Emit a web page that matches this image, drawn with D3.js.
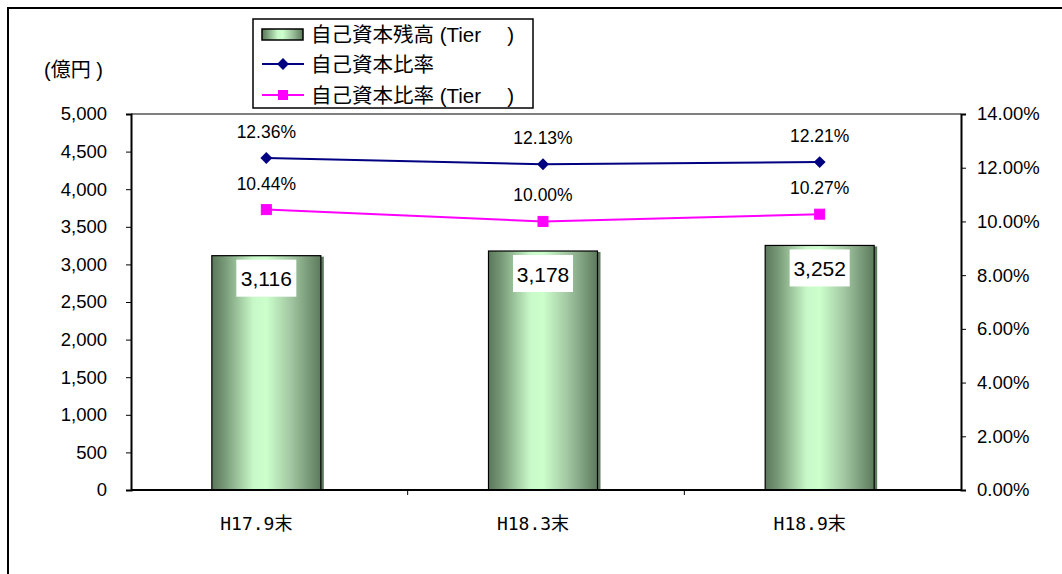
<!DOCTYPE html>
<html>
<head>
<meta charset="utf-8">
<script src="https://cdn.jsdelivr.net/npm/d3@7"></script>
<style>
  html, body { margin: 0; padding: 0; background: #fff; }
  svg { display: block; }
  text { font-family: "Liberation Sans", Arial, sans-serif; fill: #000; }
</style>
</head>
<body>
<svg id="chart" width="1062" height="574"></svg>
<script>
// Data
const categories = ["H17.9末", "H18.3末", "H18.9末"];
const capital = [3116, 3178, 3252];          // 自己資本残高 (億円)
const ratio = [12.36, 12.13, 12.21];          // 自己資本比率 (%)
const ratioTier = [10.44, 10.00, 10.27];      // 自己資本比率 (Tier) (%)
const leftTicks = [0, 500, 1000, 1500, 2000, 2500, 3000, 3500, 4000, 4500, 5000];
const rightTicks = [0, 2, 4, 6, 8, 10, 12, 14];
const seriesNames = ["自己資本残高 (Tier\u3000 )", "自己資本比率", "自己資本比率 (Tier\u3000 )"];

const svg = d3.select("#chart");
const plot = { left: 131, right: 961, top: 114, bottom: 490 };

// Outer chart frame (top and left edges visible)
svg.append("path")
  .attr("d", "M8,574 V8 H1062")
  .attr("fill", "none").attr("stroke", "#000").attr("stroke-width", 2);

const x = d3.scaleBand().domain(categories).range([plot.left, plot.right]).paddingInner(0).paddingOuter(0);
const yL = d3.scaleLinear().domain([0, 5000]).range([plot.bottom, plot.top]);
const yR = d3.scaleLinear().domain([0, 14]).range([plot.bottom, plot.top]);

// Bar gradient
const defs = svg.append("defs");
const grad = defs.append("linearGradient").attr("id", "barGrad")
  .attr("x1", "0%").attr("x2", "100%").attr("y1", "0%").attr("y2", "0%");
[[0, "#5a775a"], [0.12, "#789a78"], [0.38, "#c8f8c8"], [0.5, "#ccffcc"], [0.72, "#a3c8a3"], [1, "#5c7a5c"]]
  .forEach(([o, c]) => grad.append("stop").attr("offset", o).attr("stop-color", c));

// Plot area top border (grey)
svg.append("line")
  .attr("x1", plot.left).attr("x2", plot.right).attr("y1", plot.top).attr("y2", plot.top)
  .attr("stroke", "#808080").attr("stroke-width", 2);

// Bars
const barW = 109;
const bars = svg.append("g");
categories.forEach((c, i) => {
  const cx = x(c) + x.bandwidth() / 2 - 3;
  const y0 = yL(capital[i]);
  bars.append("rect")
    .attr("x", cx + barW / 2).attr("y", y0 + 1)
    .attr("width", 3).attr("height", plot.bottom - y0 - 1)
    .attr("fill", "#5e7a5e");
  bars.append("rect")
    .attr("x", cx - barW / 2).attr("y", y0)
    .attr("width", barW).attr("height", plot.bottom - y0)
    .attr("fill", "url(#barGrad)")
    .attr("stroke", "#000").attr("stroke-width", 1.2);
  // value label box
  const lbl = d3.format(",")(capital[i]);
  bars.append("rect")
    .attr("x", cx - 30).attr("y", y0 + 4)
    .attr("width", 60).attr("height", 37).attr("fill", "#fff");
  bars.append("text")
    .attr("x", cx).attr("y", y0 + 23)
    .attr("text-anchor", "middle").attr("dominant-baseline", "central")
    .attr("font-size", 21).text(lbl);
});

// Left axis
const axL = svg.append("g").attr("transform", `translate(${plot.left},0)`)
  .call(d3.axisLeft(yL).tickValues(leftTicks).tickSize(5).tickPadding(19).tickFormat(d3.format(",")));
axL.select(".domain").attr("stroke", "#000").attr("stroke-width", 2);
axL.selectAll(".tick line").attr("stroke", "#000");
axL.selectAll(".tick text").attr("font-size", 18.5).attr("font-family", "Liberation Sans, Arial, sans-serif").attr("fill", "#000");

// Right axis
const axR = svg.append("g").attr("transform", `translate(${plot.right},0)`)
  .call(d3.axisRight(yR).tickValues(rightTicks).tickSize(5).tickPadding(11).tickFormat(d => d.toFixed(2) + "%"));
axR.select(".domain").attr("stroke", "#000").attr("stroke-width", 2);
axR.selectAll(".tick line").attr("stroke", "#000");
axR.selectAll(".tick text").attr("font-size", 18.5).attr("font-family", "Liberation Sans, Arial, sans-serif").attr("fill", "#000");

// Bottom axis with ticks at category boundaries
svg.append("line")
  .attr("x1", plot.left).attr("x2", plot.right).attr("y1", plot.bottom).attr("y2", plot.bottom)
  .attr("stroke", "#000").attr("stroke-width", 2);
categories.slice(1).forEach(c => {
  svg.append("line").attr("x1", x(c)).attr("x2", x(c))
    .attr("y1", plot.bottom).attr("y2", plot.bottom + 5).attr("stroke", "#000");
});
categories.forEach(c => {
  svg.append("text")
    .attr("x", x(c) + x.bandwidth() / 2 - 13).attr("y", 523)
    .attr("text-anchor", "middle").attr("dominant-baseline", "central")
    .attr("font-size", 18)
    .style("font-family", "'DejaVu Sans Mono', 'Noto Sans CJK JP', monospace")
    .text(c);
});

// Lines
const xc = (c) => x(c) + x.bandwidth() / 2 - 3;
const line = d3.line().x(d => xc(d.c)).y(d => yR(d.v));
const ratioData = categories.map((c, i) => ({ c, v: ratio[i] }));
const tierData = categories.map((c, i) => ({ c, v: ratioTier[i] }));

svg.append("path").datum(ratioData).attr("d", line)
  .attr("fill", "none").attr("stroke", "#000080").attr("stroke-width", 2);
svg.append("path").datum(tierData).attr("d", line)
  .attr("fill", "none").attr("stroke", "#ff00ff").attr("stroke-width", 2);

svg.selectAll(".dia").data(ratioData).enter().append("path")
  .attr("transform", d => `translate(${xc(d.c)},${yR(d.v)})`)
  .attr("d", d3.symbol(d3.symbolDiamond2, 90)())
  .attr("fill", "#000080");
svg.selectAll(".sq").data(tierData).enter().append("rect")
  .attr("x", d => xc(d.c) - 5).attr("y", d => yR(d.v) - 5)
  .attr("width", 10).attr("height", 10)
  .attr("fill", "#ff00ff").attr("stroke", "#ff00ff");

// Line value labels
svg.selectAll(".rl").data(ratioData).enter().append("text")
  .attr("x", d => xc(d.c)).attr("y", d => yR(d.v) - 26)
  .attr("text-anchor", "middle").attr("dominant-baseline", "central")
  .attr("font-size", 17.5).text(d => d.v.toFixed(2) + "%");
svg.selectAll(".tl").data(tierData).enter().append("text")
  .attr("x", d => xc(d.c)).attr("y", d => yR(d.v) - 26)
  .attr("text-anchor", "middle").attr("dominant-baseline", "central")
  .attr("font-size", 17.5).text(d => d.v.toFixed(2) + "%");

// Unit label
svg.append("text").attr("x", 44).attr("y", 70).attr("dominant-baseline", "central")
  .attr("font-size", 20)
  .style("font-family", "'Liberation Sans', 'Noto Sans CJK JP', sans-serif")
  .text("(億円 )");

// Legend
const lg = svg.append("g");
lg.append("rect").attr("x", 253).attr("y", 19).attr("width", 280).attr("height", 89)
  .attr("fill", "#fff").attr("stroke", "#000").attr("stroke-width", 1.5);
const rowY = [34, 64, 95];
lg.append("rect").attr("x", 262).attr("y", rowY[0] - 5).attr("width", 41).attr("height", 11)
  .attr("fill", "url(#barGrad)").attr("stroke", "#000").attr("stroke-width", 1.5);
lg.append("line").attr("x1", 262).attr("x2", 304).attr("y1", rowY[1]).attr("y2", rowY[1])
  .attr("stroke", "#000080").attr("stroke-width", 2);
lg.append("path").attr("transform", `translate(283,${rowY[1]})`)
  .attr("d", d3.symbol(d3.symbolDiamond2, 90)()).attr("fill", "#000080");
lg.append("line").attr("x1", 262).attr("x2", 304).attr("y1", rowY[2]).attr("y2", rowY[2])
  .attr("stroke", "#ff00ff").attr("stroke-width", 2);
lg.append("rect").attr("x", 278).attr("y", rowY[2] - 5).attr("width", 10).attr("height", 10)
  .attr("fill", "#ff00ff");
seriesNames.forEach((n, i) => {
  lg.append("text").attr("x", 311).attr("y", rowY[i]).attr("dominant-baseline", "central")
    .attr("font-size", 20.5)
    .style("font-family", "'Liberation Sans', 'Noto Sans CJK JP', sans-serif")
    .style("white-space", "pre")
    .text(n);
});
</script>
</body>
</html>
